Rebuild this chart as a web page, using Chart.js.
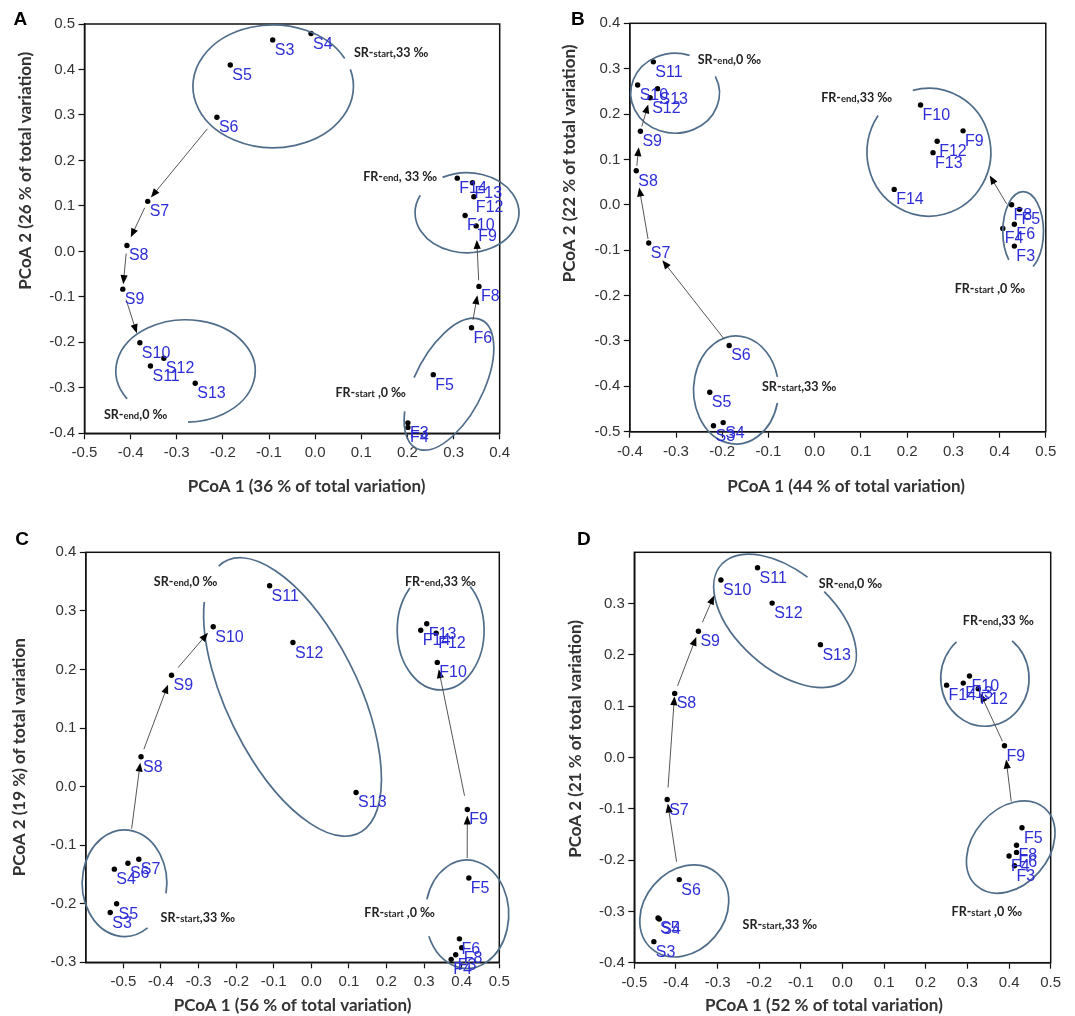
<!DOCTYPE html>
<html>
<head>
<meta charset="utf-8">
<script src="https://cdn.jsdelivr.net/npm/chart.js@4.4.0/dist/chart.umd.min.js"></script>
<style>
  body { margin: 0; background: #fff; width: 1075px; height: 1016px; position: relative; overflow: hidden; }
  canvas { position: absolute; }
</style>
</head>
<body>
<canvas id="cA" width="537" height="508" style="left:0;top:0"></canvas>
<canvas id="cB" width="538" height="508" style="left:537px;top:0"></canvas>
<canvas id="cC" width="537" height="508" style="left:0;top:508px"></canvas>
<canvas id="cD" width="538" height="508" style="left:537px;top:508px"></canvas>
<script>
// sample names (same order in every panel)
const names = ['S3','S4','S5','S6','S7','S8','S9','S10','S11','S12','S13',
               'F3','F4','F5','F6','F8','F9','F10','F12','F13','F14'];

// A
const xA = [-0.092,-0.009,-0.184,-0.213,-0.363,-0.408,-0.417,-0.380,-0.357,-0.328,-0.260,
            0.201,0.201,0.256,0.339,0.355,0.349,0.325,0.344,0.341,0.308];
const yA = [0.465,0.479,0.410,0.295,0.110,0.013,-0.083,-0.201,-0.252,-0.235,-0.290,
            -0.377,-0.387,-0.271,-0.168,-0.077,0.056,0.079,0.120,0.151,0.161];
// B
const xB = [-0.219,-0.198,-0.227,-0.185,-0.359,-0.386,-0.377,-0.383,-0.349,-0.356,-0.340,
            0.432,0.407,0.443,0.432,0.426,0.321,0.229,0.265,0.256,0.172];
const yB = [-0.487,-0.480,-0.413,-0.310,-0.084,0.075,0.162,0.264,0.315,0.236,0.256,
            -0.091,-0.052,-0.010,-0.043,0.000,0.163,0.220,0.140,0.115,0.034];
// C
const xC = [-0.535,-0.524,-0.518,-0.488,-0.459,-0.453,-0.372,-0.261,-0.111,-0.049,0.119,
            0.384,0.372,0.419,0.394,0.400,0.415,0.335,0.332,0.307,0.291];
const yC = [-0.215,-0.141,-0.200,-0.131,-0.124,0.051,0.190,0.273,0.343,0.246,-0.010,
            -0.287,-0.295,-0.156,-0.260,-0.275,-0.039,0.212,0.262,0.278,0.267];
// D
const xD = [-0.453,-0.440,-0.443,-0.392,-0.421,-0.403,-0.346,-0.292,-0.204,-0.169,-0.053,
            0.413,0.400,0.431,0.418,0.418,0.389,0.305,0.326,0.290,0.250];
const yD = [-0.359,-0.315,-0.313,-0.238,-0.082,0.125,0.246,0.346,0.370,0.301,0.220,
            -0.211,-0.192,-0.137,-0.185,-0.171,0.023,0.159,0.134,0.145,0.141];

// axis titles
const xTitles = ['PCoA 1 (36 % of total variation)', 'PCoA 1 (44 % of total variation)',
                 'PCoA 1 (56 % of total variation)', 'PCoA 1 (52 % of total variation)'];
const yTitles = ['PCoA 2 (26 % of total variation)', 'PCoA 2 (22 % of total variation)',
                 'PCoA 2 (19 %) of total variation', 'PCoA 2 (21 % of total variation)'];

// group outlines (data units, rot in degrees, gap = open arc in degrees)
const ellA = [
  {id:'SRstart', cx:-0.091, cy:0.363, rx:0.174, ry:0.135, rot:0, gap:[333,344]},
  {id:'FRend', cx:0.329, cy:0.085, rx:0.1125, ry:0.088, rot:0, gap:[206,242]},
  {id:'SRend', cx:-0.281, cy:-0.263, rx:0.151, ry:0.1125, rot:0, gap:[88,147]},
  {id:'FRstart', cx:0.290, cy:-0.292, rx:0.156, ry:0.0756, rot:-62.9, gap:[232,262]}
];
const ellB = [
  {id:'SRend', cx:-0.302, cy:0.246, rx:0.096, ry:0.088, rot:0, gap:[289,335]},
  {id:'FRend', cx:0.247, cy:0.116, rx:0.134, ry:0.141, rot:0, gap:[215,255]},
  {id:'FRstart', cx:0.451, cy:-0.059, rx:0.044, ry:0.088, rot:0, gap:[61,135]},
  {id:'SRstart', cx:-0.170, cy:-0.408, rx:0.092, ry:0.119, rot:0, gap:[346,374]}
];
const ellC = [
  {id:'SRend', cx:-0.050, cy:0.153, rx:0.403, ry:0.1127, rot:64.1, gap:[145,172]},
  {id:'FRend', cx:0.344, cy:0.267, rx:0.1156, ry:0.102, rot:0, gap:[225,313]},
  {id:'SRstart', cx:-0.497, cy:-0.165, rx:0.1125, ry:0.091, rot:0, gap:[11,57]},
  {id:'FRstart', cx:0.414, cy:-0.218, rx:0.111, ry:0.0925, rot:0, gap:[156,196]}
];
const ellD = [
  {id:'SRend', cx:-0.138, cy:0.2665, rx:0.204, ry:0.0937, rot:41.2, gap:[262,277]},
  {id:'FRend', cx:0.342, cy:0.154, rx:0.106, ry:0.093, rot:0, gap:[230,308]},
  {id:'SRstart', cx:-0.380, cy:-0.299, rx:0.120, ry:0.078, rot:-49.5, gap:null},
  {id:'FRstart', cx:0.404, cy:-0.1746, rx:0.124, ry:0.0735, rot:-48.9, gap:null}
];

// arrows: from, to, gap at start, gap at tip (px); '@' = from a group outline
const arrA = [['S6','S7',15,5],['S7','S8',7,9],['S8','S9',8,5],['S9','S10',11,10],['F6','F8',8,9],['F8','F9',6,14]];
const arrB = [['S6','S7',8,22],['S7','S8',4,17],['S8','S9',5,16],['S9','S12',5,7],['@FRstart','F9',2,52]];
const arrC = [['@SRstart','S8',2,6],['S8','S9',8,10],['S9','S10',10,8],['@FRstart','F9',2,6],['F9','F10',14,7]];
const arrD = [['S6','S7',18,4],['S7','S8',12,3],['S8','S9',8,6],['S9','S10',10,17],['F8','F9',44,14],['F9','F12',5,5]];

// group captions
const grpA = [{x:0.084, y:0.436, t:['SR-','start',',33 ‰']}, {x:0.104, y:0.163, t:['FR-','end',', 33 ‰']},
              {x:0.044, y:-0.312, t:['FR-','start',' ,0 ‰']}, {x:-0.458, y:-0.359, t:['SR-','end',',0 ‰']}];
const grpB = [{x:-0.253, y:0.319, t:['SR-','end',',0 ‰']}, {x:0.014, y:0.235, t:['FR-','end',',33 ‰']},
              {x:0.303, y:-0.186, t:['FR-','start',' ,0 ‰']}, {x:-0.114, y:-0.402, t:['SR-','start',',33 ‰']}];
const grpC = [{x:-0.419, y:0.349, t:['SR-','end',',0 ‰']}, {x:0.249, y:0.350, t:['FR-','end',',33 ‰']},
              {x:-0.401, y:-0.224, t:['SR-','start',',33 ‰']}, {x:0.141, y:-0.216, t:['FR-','start',' ,0 ‰']}];
const grpD = [{x:-0.057, y:0.338, t:['SR-','end',',0 ‰']}, {x:0.289, y:0.266, t:['FR-','end',',33 ‰']},
              {x:-0.240, y:-0.326, t:['SR-','start',',33 ‰']}, {x:0.262, y:-0.301, t:['FR-','start',' ,0 ‰']}];

Chart.defaults.font.family = '"Liberation Sans", Arial, sans-serif';

const extras = {
  id: 'extras',
  afterDatasetsDraw(chart, args, o) {
    const ctx = chart.ctx, a = chart.chartArea, x = chart.scales.x, y = chart.scales.y;
    const kx = Math.abs(x.getPixelForValue(1) - x.getPixelForValue(0));
    const ky = Math.abs(y.getPixelForValue(1) - y.getPixelForValue(0));
    ctx.save();

    // box round the plot
    ctx.strokeStyle = '#111';
    ctx.lineWidth = 1.5;
    ctx.strokeRect(a.left, a.top, a.right - a.left, a.bottom - a.top);

    // outlines
    const ells = {};
    o.ellipses.forEach(e => {
      const g = {cx: x.getPixelForValue(e.cx), cy: y.getPixelForValue(e.cy),
                 rx: e.rx * kx, ry: e.ry * ky, rot: e.rot * Math.PI / 180};
      ells[e.id] = g;
      let s = 0, t = Math.PI * 2;
      if (e.gap) { s = e.gap[1] * Math.PI / 180; t = (e.gap[0] + 360) * Math.PI / 180; }
      ctx.beginPath();
      ctx.ellipse(g.cx, g.cy, g.rx, g.ry, g.rot, s, t);
      ctx.strokeStyle = '#4f6d8a';
      ctx.lineWidth = 1.7;
      ctx.stroke();
    });

    const pt = {};
    names.forEach((n, i) => { pt[n] = {x: x.getPixelForValue(o.xs[i]), y: y.getPixelForValue(o.ys[i])}; });

    // arrows
    o.arrows.forEach(([f, to, g0, g1]) => {
      const q = pt[to];
      let p0, r = 0;
      if (f[0] === '@') {
        const e = ells[f.slice(1)];
        p0 = {x: e.cx, y: e.cy};
        let dx = q.x - p0.x, dy = q.y - p0.y;
        const L = Math.hypot(dx, dy); dx /= L; dy /= L;
        const c = Math.cos(e.rot), sn = Math.sin(e.rot);
        const lx = dx * c + dy * sn, ly = -dx * sn + dy * c;
        r = 1 / Math.hypot(lx / e.rx, ly / e.ry);
      } else {
        p0 = pt[f];
      }
      let dx = q.x - p0.x, dy = q.y - p0.y;
      const L = Math.hypot(dx, dy); dx /= L; dy /= L;
      const sx = p0.x + dx * (r + g0), sy = p0.y + dy * (r + g0);
      const tx = q.x - dx * g1, ty = q.y - dy * g1;
      ctx.strokeStyle = '#555';
      ctx.lineWidth = 1;
      ctx.beginPath();
      ctx.moveTo(sx, sy);
      ctx.lineTo(tx - dx * 6, ty - dy * 6);
      ctx.stroke();
      ctx.fillStyle = '#000';
      ctx.beginPath();
      ctx.moveTo(tx, ty);
      ctx.lineTo(tx - dx * 9 - dy * 3.6, ty - dy * 9 + dx * 3.6);
      ctx.lineTo(tx - dx * 9 + dy * 3.6, ty - dy * 9 - dx * 3.6);
      ctx.closePath();
      ctx.fill();
    });

    // sample labels
    ctx.font = '16px "Liberation Sans", Arial, sans-serif';
    ctx.fillStyle = '#2e2ed6';
    ctx.textBaseline = 'alphabetic';
    ctx.textAlign = 'left';
    names.forEach(n => ctx.fillText(n, pt[n].x + 2, pt[n].y + 15));

    // group captions
    ctx.fillStyle = '#222';
    o.groups.forEach(g => {
      let gx = x.getPixelForValue(g.x);
      const gy = y.getPixelForValue(g.y) + 4;
      g.t.forEach((txt, i) => {
        ctx.font = i === 1 ? 'bold 9.5px Lato, sans-serif' : 'bold 12.5px Lato, sans-serif';
        ctx.fillText(txt, gx, gy);
        gx += ctx.measureText(txt).width;
      });
    });

    // panel letter
    ctx.font = 'bold 19px "Liberation Sans", Arial, sans-serif';
    ctx.fillStyle = '#000';
    ctx.fillText(o.letter, o.lx, o.ly);
    ctx.restore();
  }
};

const fmt = v => (Math.abs(v) < 1e-9 ? '0.0' : v.toFixed(1));
// spaces before/after a title move its visible text along the axis
const shift = (txt, n) => (n >= 0 ? ' '.repeat(n) + txt : txt + ' '.repeat(-n));

function makePanel(id, i, xs, ys, lim, lay, ellipses, arrows, groups) {
  const tickFont = {size: 15};
  const titleFont = {family: 'Lato, sans-serif', weight: 'bold', size: 17};
  new Chart(document.getElementById(id), {
    type: 'scatter',
    data: {
      datasets: [{
        data: xs.map((v, k) => ({x: v, y: ys[k]})),
        pointRadius: 2.7,
        pointHoverRadius: 2.7,
        pointBackgroundColor: '#000',
        pointBorderWidth: 0,
        clip: false
      }]
    },
    options: {
      responsive: false,
      animation: false,
      events: [],
      layout: {padding: {top: lay.top, right: lay.right, left: 0, bottom: 0}},
      plugins: {
        legend: {display: false},
        tooltip: {enabled: false},
        extras: {xs, ys, ellipses, arrows, groups, letter: lay.letter, lx: lay.lx, ly: lay.ly}
      },
      scales: {
        x: {
          type: 'linear', min: lim.x[0], max: lim.x[1],
          ticks: {stepSize: 0.1, font: tickFont, color: '#333', padding: 5, maxRotation: 0, autoSkip: false, callback: fmt},
          grid: {drawOnChartArea: false, tickLength: 6, color: '#111', tickWidth: 1.2},
          border: {color: '#111', width: 1.5},
          title: {display: true, text: shift(xTitles[i], lay.xs), color: '#333', font: titleFont,
                  padding: {top: 0, bottom: lay.xtp}},
          afterBuildTicks: s => { s.ticks = s.ticks.filter(t => !(lim.hideX || []).includes(+t.value.toFixed(2))); },
          afterFit: s => { s.height = lay.xh; }
        },
        y: {
          type: 'linear', min: lim.y[0], max: lim.y[1],
          ticks: {stepSize: 0.1, font: tickFont, color: '#333', padding: 3.5, autoSkip: false, callback: fmt},
          grid: {drawOnChartArea: false, tickLength: 6, color: '#111', tickWidth: 1.2},
          border: {color: '#111', width: 1.5},
          title: {display: true, text: shift(yTitles[i], lay.ys), color: '#333', font: titleFont,
                  padding: {top: lay.ytp, bottom: 0}},
          afterBuildTicks: s => { s.ticks = s.ticks.filter(t => !(lim.hideY || []).includes(+t.value.toFixed(2))); },
          afterFit: s => { s.width = lay.yw; }
        }
      }
    },
    plugins: [extras]
  });
}

makePanel('cA', 0, xA, yA, {x: [-0.5, 0.4], y: [-0.4, 0.5]},
  {top: 24, right: 37.3, yw: 84.5, xh: 74.7, ytp: 15.4, xtp: 11.7, xs: 7, ys: 28, letter: 'A', lx: 13.5, ly: 25},
  ellA, arrA, grpA);
makePanel('cB', 1, xB, yB, {x: [-0.4, 0.5], y: [-0.5, 0.4]},
  {top: 23.3, right: 29.2, yw: 92.8, xh: 76.3, ytp: 22.4, xtp: 11.7, xs: 4, ys: 31, letter: 'B', lx: 34, ly: 25},
  ellB, arrB, grpB);
makePanel('cC', 2, xC, yC, {x: [-0.6, 0.5], y: [-0.3, 0.4], hideX: [-0.6]},
  {top: 44.3, right: 37.7, yw: 85.8, xh: 53.7, ytp: 9, xtp: 0, xs: 0, ys: 0, letter: 'C', lx: 15.2, ly: 37},
  ellC, arrC, grpC);
makePanel('cD', 3, xD, yD, {x: [-0.5, 0.5], y: [-0.4, 0.4], hideY: [0.4]},
  {top: 44.3, right: 24.3, yw: 97.3, xh: 53.3, ytp: 28.2, xtp: 0, xs: -9, ys: 9, letter: 'D', lx: 39.9, ly: 37},
  ellD, arrD, grpD);
</script>
</body>
</html>
